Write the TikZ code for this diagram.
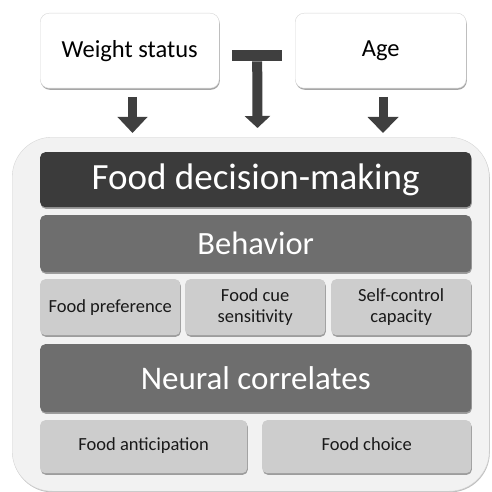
\documentclass[tikz,border=0pt]{standalone}
\usepackage{fontspec}
\setmainfont{Carlito}
\usetikzlibrary{arrows.meta,shadows}
\definecolor{darkbox}{HTML}{3B3B3B}
\definecolor{midbox}{HTML}{6E6E6E}
\definecolor{lightbox}{HTML}{CDCDCD}
\definecolor{contfill}{HTML}{F2F2F2}
\definecolor{contline}{HTML}{D6D6D6}
\definecolor{arrowgray}{HTML}{3F3F3F}
\tikzset{
  sh/.style={drop shadow={shadow xshift=0.6pt, shadow yshift=-1.6pt, fill=black, opacity=0.35}},
  tbox/.style={draw=contline, fill=white, rounded corners=9pt, anchor=north west, inner sep=0pt, align=center, text=black, sh},
  bigbox/.style={fill=#1, rounded corners=5pt, anchor=north west, inner sep=0pt, align=center, text=white, sh},
  smallbox/.style={fill=lightbox, rounded corners=5pt, anchor=north west, inner sep=0pt, align=center, text=black!90, sh,
    font=\fontsize{18.5}{21}\selectfont},
  blockarrow/.style={draw=arrowgray, line width=#1, -{Triangle[width=29pt,length=16pt]}, arrowgray},
}
\begin{document}
\begin{tikzpicture}[x=1pt,y=-1pt]
\useasboundingbox (0,0) rectangle (492,492);
% container
\node[draw=contline, fill=contfill, rounded corners=40pt, anchor=north west, minimum width=477pt, minimum height=354pt, inner sep=0pt,
  drop shadow={shadow xshift=0.6pt, shadow yshift=-1.2pt, fill=black, opacity=0.25}] (cont) at (12,137) {};
% top boxes
\node[tbox, minimum width=179pt, minimum height=75pt, font=\fontsize{24.5}{28}\selectfont] (ws) at (40,13) {Weight status};
\node[tbox, minimum width=171pt, minimum height=75pt, font=\fontsize{24.5}{28}\selectfont] (age) at (295,13) {Age\strut};
% T bar
\node[fill=arrowgray, anchor=north west, minimum width=50pt, minimum height=11pt, inner sep=0pt] (tbar) at (232,50) {};
% arrow coordinates
\coordinate (wsA) at (132.5,97);
\coordinate (wsB) at (132.5,133);
\coordinate (ageA) at (383,97);
\coordinate (ageB) at (383,133);
\coordinate (tB) at (257.5,128);
\draw[blockarrow=9pt] (wsA) -- (wsB);
\draw[blockarrow=9pt, -{Triangle[width=30pt,length=16pt]}] (ageA) -- (ageB);
\draw[blockarrow=10pt, -{Triangle[width=25pt,length=12pt]}] (tbar.south) -- (tB);
% inner boxes
\node[bigbox=darkbox, minimum width=431pt, minimum height=55pt, font=\fontsize{37}{42}\selectfont] (fdm) at (40,152) {Food decision-making};
\node[bigbox=midbox, minimum width=431pt, minimum height=57pt, font=\fontsize{32.5}{38}\selectfont] (beh) at (40,215) {Behavior};
\node[smallbox, minimum width=140pt, minimum height=56pt] (fp) at (40,279) {Food preference};
\node[smallbox, minimum width=140pt, minimum height=56pt] (fcs) at (185,279) {Food cue\\sensitivity};
\node[smallbox, minimum width=140pt, minimum height=56pt] (scc) at (331,279) {Self-control\\capacity};
\node[bigbox=midbox, minimum width=431pt, minimum height=68pt, font=\fontsize{33}{38}\selectfont] (nc) at (40,344) {Neural correlates};
\node[smallbox, minimum width=207pt, minimum height=53pt] (fa) at (40,420) {Food anticipation\strut};
\node[smallbox, minimum width=209pt, minimum height=53pt] (fc) at (262,420) {Food choice\strut};
\end{tikzpicture}
\end{document}
